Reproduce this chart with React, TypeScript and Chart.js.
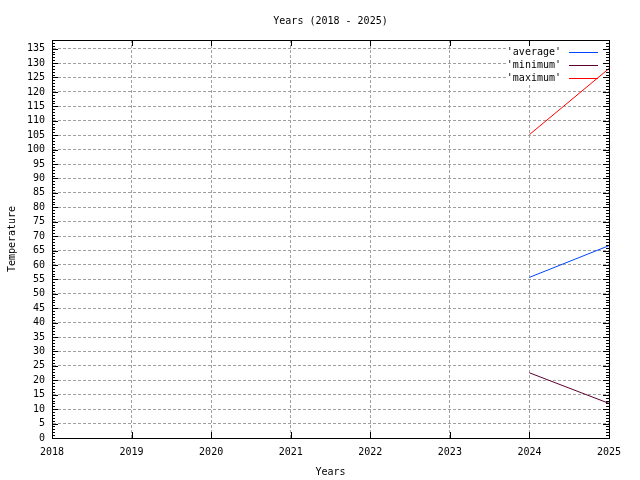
import { useEffect, useRef } from "react";
import { Chart, registerables } from "chart.js";

Chart.register(...registerables);

const years = [2024, 2025];
const averageTemps = [55.7, 66.7];
const minimumTemps = [22.6, 12.0];
const maximumTemps = [105.2, 128.1];

const seriesLabels = ["'average'", "'minimum'", "'maximum'"];
const seriesColors = ["#0044ff", "#5a0030", "#ff0000"];

const chartTitle = "Years (2018 - 2025)";
const FONT = "'DejaVu Sans Mono', 'Liberation Mono', monospace";

// gnuplot style: opaque key under the data, full border with mirrored inner ticks
const gnuplotFrame = {
  id: "gnuplotFrame",
  beforeDatasetsDraw(chart: any) {
    const { ctx, chartArea: a } = chart;
    ctx.save();
    ctx.fillStyle = "#fff";
    ctx.fillRect(a.right - 101, a.top + 2, 100, 43);
    ctx.font = "10px " + FONT;
    ctx.textBaseline = "middle";
    ctx.textAlign = "right";
    chart.data.datasets.forEach((ds: any, i: number) => {
      const rowY = Math.round(a.top + 12 + i * 12.8);
      ctx.fillStyle = "#000";
      ctx.fillText(ds.label, a.right - 48, rowY);
      ctx.fillStyle = seriesColors[i];
      ctx.fillRect(Math.round(a.right - 40), rowY, 29, 1);
    });
    ctx.restore();
  },
  afterDatasetsDraw(chart: any) {
    const { ctx, chartArea: a, scales } = chart;
    const x = scales.x;
    const y = scales.y;
    ctx.save();
    ctx.strokeStyle = "#000";
    ctx.lineWidth = 1;
    ctx.beginPath();
    for (let v = 0; v <= y.max; v++) {
      const py = Math.round(y.getPixelForValue(v)) + 0.5;
      const len = v % 5 === 0 ? 6 : 3;
      ctx.moveTo(a.left, py);
      ctx.lineTo(a.left + len, py);
      ctx.moveTo(a.right, py);
      ctx.lineTo(a.right - len, py);
    }
    for (let v = x.min; v <= x.max; v++) {
      const px = Math.round(x.getPixelForValue(v)) + 0.5;
      ctx.moveTo(px, a.bottom);
      ctx.lineTo(px, a.bottom - 6);
      ctx.moveTo(px, a.top);
      ctx.lineTo(px, a.top + 6);
    }
    ctx.stroke();
    ctx.strokeRect(
      Math.round(a.left) + 0.5,
      Math.round(a.top) + 0.5,
      Math.round(a.right - a.left),
      Math.round(a.bottom - a.top)
    );

    ctx.font = "10px " + FONT;
    ctx.fillStyle = "#000";
    ctx.textBaseline = "middle";
    ctx.textAlign = "center";
    ctx.fillText(chartTitle, (a.left + a.right) / 2, 21);
    ctx.restore();
  },
};

export default function App() {
  const canvasRef = useRef<HTMLCanvasElement | null>(null);

  useEffect(() => {
    document.body.style.margin = "0";
    if (!canvasRef.current) return;

    const makeSeries = (values: number[], i: number) => ({
      label: seriesLabels[i],
      data: years.map((yr, j) => ({ x: yr, y: values[j] })),
      borderColor: seriesColors[i],
      backgroundColor: seriesColors[i],
      borderWidth: 1,
      pointRadius: 0,
      fill: false,
      tension: 0,
    });

    const chart = new Chart(canvasRef.current.getContext("2d")!, {
      type: "line",
      data: {
        datasets: [
          makeSeries(averageTemps, 0),
          makeSeries(minimumTemps, 1),
          makeSeries(maximumTemps, 2),
        ],
      },
      plugins: [gnuplotFrame],
      options: {
        responsive: false,
        animation: false,
        layout: { padding: { left: 0, right: 31, top: 40, bottom: 0 } },
        plugins: {
          legend: { display: false },
          tooltip: { enabled: false },
        },
        scales: {
          x: {
            type: "linear",
            min: 2018,
            max: 2025,
            afterFit: (s: any) => {
              s.height = 42;
            },
            ticks: {
              stepSize: 1,
              color: "#000",
              padding: 8,
              maxRotation: 0,
              font: { family: FONT, size: 10 },
              callback: (v: any) => String(v),
            },
            grid: { color: "#a0a0a0", drawTicks: false, lineWidth: 1 },
            border: { display: true, color: "#000", dash: [3, 2] },
            title: {
              display: true,
              text: "Years",
              color: "#000",
              font: { family: FONT, size: 10 },
              padding: { top: 0, bottom: 2 },
            },
          },
          y: {
            type: "linear",
            min: 0,
            max: 138,
            afterFit: (s: any) => {
              s.width = 52;
            },
            afterBuildTicks: (s: any) => {
              const ticks = [];
              for (let v = 0; v <= s.max; v += 5) ticks.push({ value: v });
              s.ticks = ticks;
            },
            ticks: {
              stepSize: 5,
              autoSkip: false,
              color: "#000",
              padding: 7,
              font: { family: FONT, size: 10 },
            },
            grid: { color: "#a0a0a0", drawTicks: false, lineWidth: 1 },
            border: { display: true, color: "#000", dash: [3, 2] },
            title: {
              display: true,
              text: "Temperature",
              color: "#000",
              font: { family: FONT, size: 10 },
              padding: { top: 6, bottom: 0 },
            },
          },
        },
      },
    });

    return () => chart.destroy();
  }, []);

  return <canvas ref={canvasRef} width={640} height={480} />;
}
